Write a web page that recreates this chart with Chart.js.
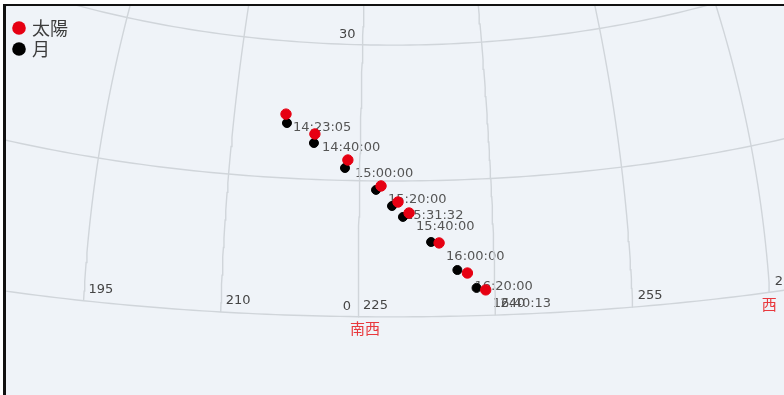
<!DOCTYPE html>
<html>
<head>
<meta charset="utf-8">
<script src="https://cdn.jsdelivr.net/npm/chart.js@4/dist/chart.umd.min.js"></script>
<style>
  html, body { margin: 0; padding: 0; background: #ffffff; }
  #frame {
    position: absolute; left: 3px; top: 4px;
    width: 778px; height: 389px;
    border-left: 3px solid #111; border-top: 2px solid #111;
    background: #eff3f8; overflow: hidden;
  }
  #frame canvas { display: block; }
</style>
</head>
<body>
<div id="frame"><canvas id="sky" width="778" height="389"></canvas></div>
<script>
// Eclipse track: sun and moon positions (azimuth / altitude, degrees)
const times   = ['14:23:05', '14:40:00', '15:00:00', '15:20:00', '15:31:32', '15:40:00', '16:00:00', '16:20:00', '16:40:13'];
const sunAz   = [216.10, 219.65, 223.60, 227.45, 229.38, 230.62, 233.94, 237.01, 238.98];
const sunAlt  = [22.00, 20.00, 17.26, 14.45, 12.68, 11.46, 8.11, 4.72, 2.80];
const moonAz  = [216.29, 219.59, 223.29, 226.88, 228.70, 229.93, 233.05, 235.91, 237.98];
const moonAlt = [21.03, 19.00, 16.37, 14.01, 12.24, 11.03, 8.23, 5.08, 3.05];

// Sky grid
const gridAz      = [165, 180, 195, 210, 225, 240, 255, 270, 285, 300];
const azLabels    = [195, 210, 225, 240, 255, 270];
const gridAlt     = [0, 15, 30, 45, 60, 75];
const altLabels   = [0, 30];
const altLabelAz  = 225;
const directions  = [{ az: 225, text: '南西' }, { az: 270, text: '西' }];

// View: azimuthal equidistant projection centred on this sky point
const VIEW_AZ = 228.7, VIEW_ALT = 15;
const PX_PER_DEG = 9.058;
const CENTER_X = 386, CENTER_Y = 175;   // canvas pixels of the view centre
const W = 778, H = 389;

const RAD = Math.PI / 180;
function project(az, alt) {
  const d = (az - VIEW_AZ) * RAD, h = alt * RAD, a0 = VIEW_ALT * RAD;
  let c = Math.sin(a0) * Math.sin(h) + Math.cos(a0) * Math.cos(h) * Math.cos(d);
  c = Math.max(-1, Math.min(1, c));
  const rho = Math.acos(c);
  const k = rho < 1e-9 ? 1 : rho / Math.sin(rho);
  return {
    x: k * Math.cos(h) * Math.sin(d) / RAD,
    y: k * (Math.cos(a0) * Math.sin(h) - Math.sin(a0) * Math.cos(h) * Math.cos(d)) / RAD
  };
}

const sunPts  = sunAz.map((a, i) => project(a, sunAlt[i]));
const moonPts = moonAz.map((a, i) => project(a, moonAlt[i]));

const gridSets = [];
gridAz.forEach(a => {
  const pts = [];
  for (let h = 0; h <= 88; h += 1) pts.push(project(a, h));
  gridSets.push({ type: 'line', data: pts, borderColor: '#d0d5da', borderWidth: 1.4,
                  pointRadius: 0, fill: false, order: 10, isGrid: true });
});
gridAlt.forEach(h => {
  const pts = [];
  for (let a = 140; a <= 320; a += 1) pts.push(project(a, h));
  gridSets.push({ type: 'line', data: pts, borderColor: '#d0d5da', borderWidth: 1.4,
                  pointRadius: 0, fill: false, order: 10, isGrid: true });
});

const NUM_FONT = '13px "DejaVu Sans", sans-serif';
const CJK = '"Noto Sans CJK JP", "Noto Sans", sans-serif';

// Grid captions and time captions are drawn under the markers
const captions = {
  id: 'captions',
  beforeDatasetsDraw(chart) {
    const { ctx, scales: { x, y } } = chart;
    const px = p => ({ x: x.getPixelForValue(p.x), y: y.getPixelForValue(p.y) });
    ctx.save();
    ctx.textBaseline = 'middle';
    ctx.font = NUM_FONT;
    ctx.fillStyle = '#454545';
    ctx.textAlign = 'left';
    azLabels.forEach(a => {
      const p = px(project(a, 0));
      ctx.fillText(String(a), p.x + 5, p.y - 11);
    });
    ctx.textAlign = 'right';
    altLabels.forEach(h => {
      const p = px(project(altLabelAz, h));
      ctx.fillText(String(h), p.x - 7, p.y - 10);
    });
    ctx.font = '15px ' + CJK;
    ctx.fillStyle = '#e8383d';
    ctx.textAlign = 'left';
    directions.forEach(dn => {
      const p = px(project(dn.az, 0));
      ctx.fillText(dn.text, p.x - 8, p.y + 12);
    });
    ctx.font = NUM_FONT;
    ctx.fillStyle = '#555555';
    sunPts.forEach((s, i) => {
      const p = px(s);
      ctx.fillText(times[i], p.x + 7, p.y + 14);
    });
    ctx.restore();
  }
};

// Legend in the top-left corner, built from the marker datasets
const cornerLegend = {
  id: 'cornerLegend',
  afterDraw(chart) {
    const { ctx } = chart;
    ctx.save();
    ctx.font = '18px ' + CJK;
    ctx.textBaseline = 'middle';
    ctx.textAlign = 'left';
    chart.data.datasets.filter(ds => !ds.isGrid).forEach((ds, i) => {
      const cy = 22 + i * 21;
      ctx.beginPath();
      ctx.arc(13, cy, 6.8, 0, Math.PI * 2);
      ctx.fillStyle = ds.backgroundColor;
      ctx.fill();
      ctx.fillStyle = '#3c3c3c';
      ctx.fillText(ds.label, 26, cy);
    });
    ctx.restore();
  }
};

new Chart(document.getElementById('sky'), {
  type: 'scatter',
  data: {
    datasets: [
      { label: '太陽', data: sunPts, backgroundColor: '#e60012', borderColor: '#e60012',
        pointRadius: 5.2, pointHoverRadius: 5.2, order: 0 },
      { label: '月', data: moonPts, backgroundColor: '#000000', borderColor: '#000000',
        pointRadius: 4.5, pointHoverRadius: 4.5, order: 1 },
      ...gridSets
    ]
  },
  options: {
    responsive: false,
    animation: false,
    layout: { padding: 0, autoPadding: false },
    plugins: { legend: { display: false }, tooltip: { enabled: false } },
    scales: {
      x: { type: 'linear', display: false, min: -CENTER_X / PX_PER_DEG, max: (W - CENTER_X) / PX_PER_DEG },
      y: { type: 'linear', display: false, min: -(H - CENTER_Y) / PX_PER_DEG, max: CENTER_Y / PX_PER_DEG }
    }
  },
  plugins: [captions, cornerLegend]
});
</script>
</body>
</html>
